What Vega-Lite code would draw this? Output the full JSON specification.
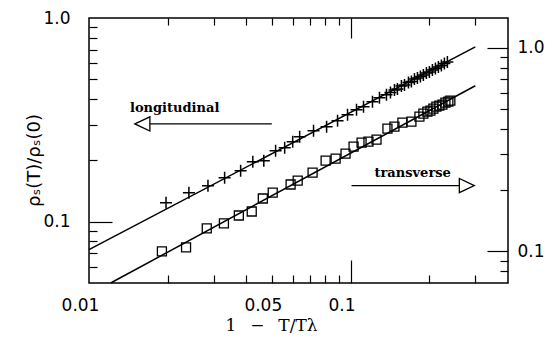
{
  "$schema": "https://vega.github.io/schema/vega-lite/v6.json",
  "width": 419,
  "height": 265,
  "autosize": {"type": "none"},
  "padding": {"left": 89, "top": 18, "right": 37, "bottom": 56},
  "background": "white",
  "config": {
    "view": {"stroke": "black", "strokeWidth": 1.5},
    "axis": {"domain": false, "grid": false, "tickColor": "black", "tickWidth": 1.2, "labelColor": "black", "titleColor": "black", "labelFont": "DejaVu Sans", "labelFontSize": 17, "labelOverlap": false, "labelFlush": false}
  },
  "datasets": {
    "longitudinal": [
      {"t": 0.0197, "rho": 0.1239}, {"t": 0.0241, "rho": 0.1387}, {"t": 0.0285, "rho": 0.1501}, {"t": 0.0330, "rho": 0.1643},
      {"t": 0.0380, "rho": 0.1778}, {"t": 0.0423, "rho": 0.1968}, {"t": 0.0466, "rho": 0.1991}, {"t": 0.0517, "rho": 0.2229},
      {"t": 0.0560, "rho": 0.2306}, {"t": 0.0601, "rho": 0.2467}, {"t": 0.0639, "rho": 0.2610}, {"t": 0.0722, "rho": 0.2793},
      {"t": 0.0810, "rho": 0.2922}, {"t": 0.0892, "rho": 0.3127}, {"t": 0.0974, "rho": 0.3346}, {"t": 0.1054, "rho": 0.3540},
      {"t": 0.1121, "rho": 0.3662}, {"t": 0.1213, "rho": 0.3876}, {"t": 0.1290, "rho": 0.4055}, {"t": 0.1372, "rho": 0.4195},
      {"t": 0.1421, "rho": 0.4313}, {"t": 0.1472, "rho": 0.4437}, {"t": 0.1511, "rho": 0.4487}, {"t": 0.1565, "rho": 0.4642},
      {"t": 0.1608, "rho": 0.4694}, {"t": 0.1665, "rho": 0.4828}, {"t": 0.1709, "rho": 0.4883}, {"t": 0.1755, "rho": 0.5023},
      {"t": 0.1802, "rho": 0.5080}, {"t": 0.1850, "rho": 0.5167}, {"t": 0.1899, "rho": 0.5255}, {"t": 0.1950, "rho": 0.5375},
      {"t": 0.2002, "rho": 0.5436}, {"t": 0.2056, "rho": 0.5560}, {"t": 0.2111, "rho": 0.5655}, {"t": 0.2167, "rho": 0.5751},
      {"t": 0.2225, "rho": 0.5849}, {"t": 0.2285, "rho": 0.5984}, {"t": 0.2346, "rho": 0.6086}
    ],
    "transverse": [
      {"t": 0.0190, "rho": 0.1000}, {"t": 0.0235, "rho": 0.1046}, {"t": 0.0282, "rho": 0.1297}, {"t": 0.0328, "rho": 0.1372},
      {"t": 0.0374, "rho": 0.1501}, {"t": 0.0419, "rho": 0.1571}, {"t": 0.0462, "rho": 0.1819}, {"t": 0.0504, "rho": 0.1946},
      {"t": 0.0590, "rho": 0.2131}, {"t": 0.0628, "rho": 0.2229}, {"t": 0.0716, "rho": 0.2439}, {"t": 0.0803, "rho": 0.2793},
      {"t": 0.0877, "rho": 0.2857}, {"t": 0.0957, "rho": 0.3022}, {"t": 0.1027, "rho": 0.3270}, {"t": 0.1102, "rho": 0.3422},
      {"t": 0.1171, "rho": 0.3461}, {"t": 0.1257, "rho": 0.3540}, {"t": 0.1384, "rho": 0.4008}, {"t": 0.1472, "rho": 0.4100},
      {"t": 0.1579, "rho": 0.4290}, {"t": 0.1709, "rho": 0.4338}, {"t": 0.1834, "rho": 0.4589}, {"t": 0.1899, "rho": 0.4747},
      {"t": 0.1967, "rho": 0.4857}, {"t": 0.2020, "rho": 0.4912}, {"t": 0.2074, "rho": 0.5023}, {"t": 0.2129, "rho": 0.5137},
      {"t": 0.2186, "rho": 0.5195}, {"t": 0.2245, "rho": 0.5255}, {"t": 0.2305, "rho": 0.5375}, {"t": 0.2366, "rho": 0.5436},
      {"t": 0.2408, "rho": 0.5497}
    ],
    "fitLong": [{"t": 0.01, "rho": 0.0729}, {"t": 0.3, "rho": 0.721}],
    "fitTrans": [{"t": 0.0121, "rho": 0.0700}, {"t": 0.3, "rho": 0.651}],
    "arrowLong": [{"t": 0.05, "t2": 0.0155, "rho": 0.302, "head": 0.0160, "label": "longitudinal", "tl": 0.01434, "rl": 0.362}],
    "arrowTrans": [{"t": 0.1009, "t2": 0.275, "rho": 0.2106, "head": 0.2784, "label": "transverse", "tl": 0.1235, "rl": 0.2439}]
  },
  "layer": [
    {
      "data": {"name": "longitudinal"},
      "mark": {"type": "point", "shape": "M-1,0H1M0,-1V1", "size": 144, "filled": false, "stroke": "black", "strokeWidth": 1.5, "opacity": 1},
      "encoding": {
        "x": {"field": "t", "type": "quantitative", "scale": {"type": "log", "domain": [0.01, 0.4]},
          "axis": {"orient": "bottom", "values": [0.01, 0.05, 0.1], "format": "~g", "ticks": false, "labelPadding": 14, "labelOffset": -9,
            "title": "1 \u2002\u2212\u2002 T/T\u03bb", "titleFont": "DejaVu Serif", "titleFontSize": 17, "titleFontWeight": "normal", "titleX": 182, "titleY": 42, "titleBaseline": "middle"}},
        "y": {"field": "rho", "type": "quantitative", "scale": {"type": "log", "domain": [0.05, 1]},
          "axis": {"orient": "left", "values": [0.1, 1], "format": ".1f", "ticks": false, "labelPadding": 19,
            "title": "\u03c1\u209b(T)/\u03c1\u209b(0)", "titleFont": "DejaVu Sans", "titleFontSize": 18, "titleFontWeight": "normal", "titleX": -55, "titleY": 142, "titleBaseline": "middle", "titleAngle": 270}}
      }
    },
    {
      "data": {"name": "fitLong"},
      "mark": {"type": "line", "color": "black", "strokeWidth": 1.5},
      "encoding": {
        "x": {"field": "t", "type": "quantitative", "scale": {"type": "log", "domain": [0.01, 0.4]},
          "axis": {"orient": "bottom", "values": [0.1], "tickSize": -23, "labels": false, "title": null}},
        "y": {"field": "rho", "type": "quantitative", "scale": {"type": "log", "domain": [0.05, 1]},
          "axis": {"orient": "left", "values": [0.1], "tickSize": -23, "labels": false, "title": null}}
      }
    },
    {
      "data": {"name": "arrowLong"},
      "mark": {"type": "rule", "color": "black", "strokeWidth": 1.2},
      "encoding": {
        "x": {"field": "t", "type": "quantitative", "scale": {"type": "log", "domain": [0.01, 0.4]},
          "axis": {"orient": "bottom", "values": [0.02, 0.03, 0.04, 0.05, 0.06, 0.07, 0.08, 0.09, 0.2, 0.3], "tickSize": -8, "labels": false, "title": null}},
        "x2": {"field": "t2"},
        "y": {"field": "rho", "type": "quantitative", "scale": {"type": "log", "domain": [0.05, 1]},
          "axis": {"orient": "left", "values": [0.06, 0.07, 0.08, 0.09, 0.2, 0.3, 0.4, 0.5, 0.6, 0.7, 0.8, 0.9], "tickSize": -8, "labels": false, "title": null}}
      }
    },
    {
      "data": {"name": "arrowLong"},
      "mark": {"type": "point", "shape": "M-1,0L1,-0.95L1,0.95Z", "size": 225, "filled": true, "fill": "white", "stroke": "black", "strokeWidth": 1.3, "opacity": 1},
      "encoding": {
        "x": {"field": "head", "type": "quantitative", "scale": {"type": "log", "domain": [0.01, 0.4]},
          "axis": {"orient": "top", "values": [0.1], "tickSize": -20, "labels": false, "title": null}},
        "y": {"field": "rho", "type": "quantitative", "scale": {"type": "log", "domain": [0.05, 1]}, "axis": null}
      }
    },
    {
      "data": {"name": "arrowLong"},
      "mark": {"type": "text", "font": "DejaVu Serif", "fontWeight": "bold", "fontSize": 13, "align": "left", "baseline": "middle", "color": "black"},
      "encoding": {
        "x": {"field": "tl", "type": "quantitative", "scale": {"type": "log", "domain": [0.01, 0.4]},
          "axis": {"orient": "top", "values": [0.02, 0.03, 0.04, 0.05, 0.06, 0.07, 0.08, 0.09, 0.2, 0.3], "tickSize": -7, "labels": false, "title": null}},
        "y": {"field": "rl", "type": "quantitative", "scale": {"type": "log", "domain": [0.05, 1]}, "axis": null},
        "text": {"field": "label"}
      }
    },
    {
      "data": {"name": "transverse"},
      "mark": {"type": "point", "shape": "square", "size": 81, "filled": false, "stroke": "black", "strokeWidth": 1.3, "opacity": 1},
      "encoding": {
        "x": {"field": "t", "type": "quantitative", "scale": {"type": "log", "domain": [0.01, 0.4]}, "axis": null},
        "y": {"field": "rho", "type": "quantitative", "scale": {"type": "log", "domain": [0.07, 1.4]},
          "axis": {"orient": "right", "values": [0.1, 1], "format": ".1f", "ticks": false, "labelPadding": 9, "title": null}}
      }
    },
    {
      "data": {"name": "fitTrans"},
      "mark": {"type": "line", "color": "black", "strokeWidth": 1.5},
      "encoding": {
        "x": {"field": "t", "type": "quantitative", "scale": {"type": "log", "domain": [0.01, 0.4]}, "axis": null},
        "y": {"field": "rho", "type": "quantitative", "scale": {"type": "log", "domain": [0.07, 1.4]},
          "axis": {"orient": "right", "values": [0.1, 1], "tickSize": -21, "labels": false, "title": null}}
      }
    },
    {
      "data": {"name": "arrowTrans"},
      "mark": {"type": "rule", "color": "black", "strokeWidth": 1.2},
      "encoding": {
        "x": {"field": "t", "type": "quantitative", "scale": {"type": "log", "domain": [0.01, 0.4]}, "axis": null},
        "x2": {"field": "t2"},
        "y": {"field": "rho", "type": "quantitative", "scale": {"type": "log", "domain": [0.07, 1.4]},
          "axis": {"orient": "right", "values": [0.08, 0.09, 0.2, 0.3, 0.4, 0.5, 0.6, 0.7, 0.8, 0.9], "tickSize": -8, "labels": false, "title": null}}
      }
    },
    {
      "data": {"name": "arrowTrans"},
      "mark": {"type": "point", "shape": "M1,0L-1,-0.95L-1,0.95Z", "size": 225, "filled": true, "fill": "white", "stroke": "black", "strokeWidth": 1.3, "opacity": 1},
      "encoding": {
        "x": {"field": "head", "type": "quantitative", "scale": {"type": "log", "domain": [0.01, 0.4]}, "axis": null},
        "y": {"field": "rho", "type": "quantitative", "scale": {"type": "log", "domain": [0.07, 1.4]}, "axis": null}
      }
    },
    {
      "data": {"name": "arrowTrans"},
      "mark": {"type": "text", "font": "DejaVu Serif", "fontWeight": "bold", "fontSize": 13, "align": "left", "baseline": "middle", "color": "black"},
      "encoding": {
        "x": {"field": "tl", "type": "quantitative", "scale": {"type": "log", "domain": [0.01, 0.4]}, "axis": null},
        "y": {"field": "rl", "type": "quantitative", "scale": {"type": "log", "domain": [0.07, 1.4]}, "axis": null},
        "text": {"field": "label"}
      }
    }
  ],
  "resolve": {"scale": {"y": "independent"}, "axis": {"x": "independent", "y": "independent"}}
}
